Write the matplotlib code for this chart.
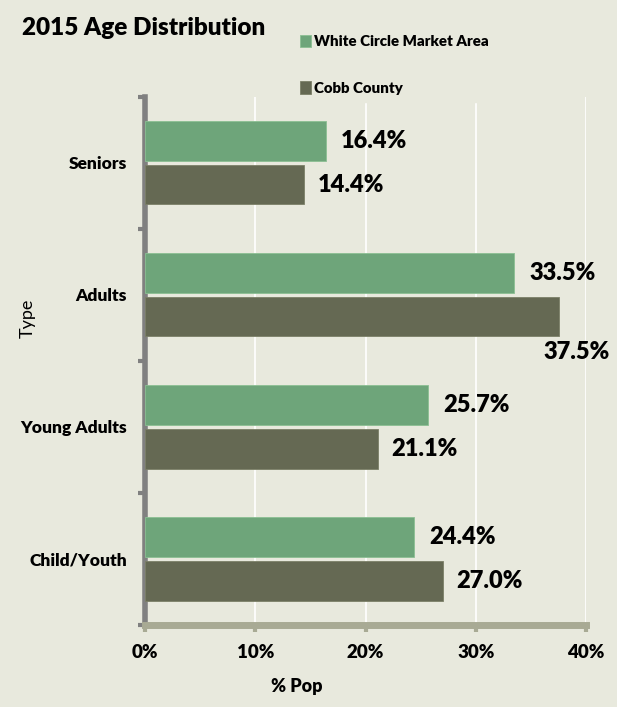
import matplotlib
matplotlib.use("Agg")
import matplotlib.pyplot as plt
import numpy as np

categories = ["Child/Youth", "Young Adults", "Adults", "Seniors"]
white_circle = [24.4, 25.7, 33.5, 16.4]
cobb_county = [27.0, 21.1, 37.5, 14.4]
series_names = ["White Circle Market Area", "Cobb County"]
xticks = [0, 10, 20, 30, 40]

BG = "#E8E9DD"
GREEN = "#6EA57A"
DARK = "#656953"
FONT = ["Lato", "DejaVu Sans"]
plt.rcParams["font.family"] = FONT
W = "heavy"

fig = plt.figure(figsize=(6.17, 7.07), dpi=100, facecolor=BG)
ax = fig.add_axes([0.235, 0.116, 0.715, 0.747], facecolor=BG)

y = np.arange(len(categories))
h = 0.30
gap = 0.015
b1 = ax.barh(y + h / 2 + gap, white_circle, height=h, color=GREEN,
             edgecolor="#8BBF93", linewidth=0.6, label=series_names[0], zorder=3)
b2 = ax.barh(y - h / 2 - gap, cobb_county, height=h, color=DARK,
             edgecolor="#7C8068", linewidth=0.6, label=series_names[1], zorder=3)

ax.set_xlim(0, 40)
ax.set_ylim(-0.5, len(categories) - 0.5)
ax.set_xticks(xticks)
ax.set_xticklabels([f"{t}%" for t in xticks], fontsize=13.5, fontweight=W)
ax.set_yticks(y)
ax.set_yticklabels(categories, fontsize=12.5, fontweight=W)
ax.set_yticks(np.arange(-0.5, len(categories), 1.0), minor=True)
ax.tick_params(axis="y", which="major", length=0, pad=13)
ax.tick_params(axis="y", which="minor", length=5, width=3, color="#808080", direction="out")
ax.tick_params(axis="x", length=5, width=3, color="#A8AA94", pad=9)

ax.grid(axis="x", color="white", linewidth=1.2, zorder=0)
for s in ["top", "right"]:
    ax.spines[s].set_visible(False)
ax.spines["left"].set_color("#808080")
ax.spines["left"].set_linewidth(4)
ax.spines["bottom"].set_color("#A8AA94")
ax.spines["bottom"].set_linewidth(5)

for i in range(len(categories)):
    ax.annotate(f"{white_circle[i]:.1f}%", xy=(white_circle[i], y[i] + h / 2 + gap),
                xytext=(11, 0), textcoords="offset points", va="center", ha="left",
                fontsize=17, fontweight=W, zorder=4)
    v = cobb_county[i]
    if v > 36:
        ax.annotate(f"{v:.1f}%", xy=(v, y[i] - h - gap), xytext=(-11, -3),
                    textcoords="offset points", va="top", ha="left",
                    fontsize=17, fontweight=W, zorder=4)
    else:
        ax.annotate(f"{v:.1f}%", xy=(v, y[i] - h / 2 - gap), xytext=(10, 0),
                    textcoords="offset points", va="center", ha="left",
                    fontsize=17, fontweight=W, zorder=4)

ax.set_xlabel("% Pop", fontsize=13, fontweight=W)
ax.xaxis.set_label_coords(0.345, -0.101)
ax.set_ylabel("Type", fontsize=13)
ax.yaxis.set_label_coords(-0.247, 0.58)

fig.text(0.036, 0.960, "2015 Age Distribution", fontsize=17.5, fontweight=W,
         ha="left", va="center")

leg = fig.legend(handles=[b1, b2], loc="upper left", bbox_to_anchor=(0.462, 0.972),
                 frameon=True, facecolor=BG, edgecolor=BG, framealpha=1,
                 prop={"family": FONT, "weight": W, "size": 10.8},
                 handlelength=0.7, handleheight=0.9, handletextpad=0.25,
                 labelspacing=2.2, borderpad=0.5)

fig.savefig("out.png", dpi=100, facecolor=BG)
